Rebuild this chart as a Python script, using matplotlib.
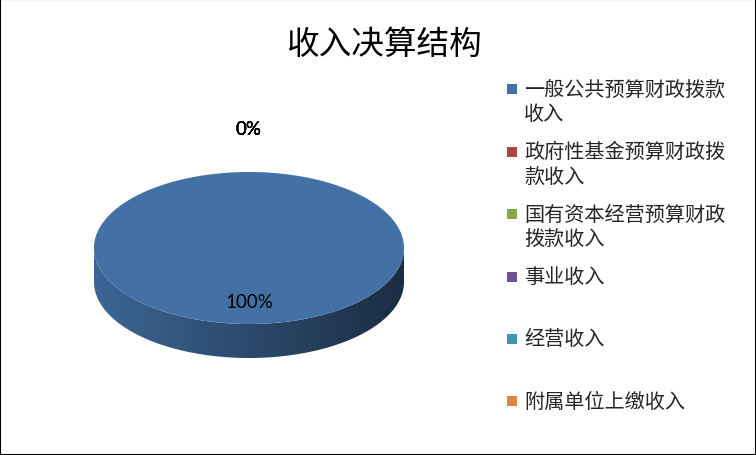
import numpy as np
import matplotlib
matplotlib.use('Agg')
import matplotlib.pyplot as plt
from matplotlib.patches import Polygon, Rectangle
from matplotlib.colors import to_rgb

plt.rcParams['font.family'] = ['Noto Sans CJK SC', 'DejaVu Sans']

# data
title = '收入决算结构'
categories = ['一般公共预算财政拨款\n收入', '政府性基金预算财政拨\n款收入', '国有资本经营预算财政\n拨款收入',
              '事业收入', '经营收入', '附属单位上缴收入']
values = [100, 0, 0, 0, 0, 0]
colors = ['#4371a6', '#a94442', '#8aa74b', '#6f5593', '#4197ae', '#de8441']

fig = plt.figure(figsize=(7.56, 4.56), dpi=100)
ax = fig.add_axes([0, 0, 1, 1])

# pie geometry in pixel units (y down)
cx, cy, a, b, depth = 249, 249, 155, 76, 34


def arc(t0, t1, n=300, dy=0):
    t = np.radians(np.linspace(t0, t1, n))
    return np.column_stack([cx + a * np.cos(t), cy - b * np.sin(t) + dy])


total = sum(values)
start = 90
for v, c in zip(values, colors):
    sweep = 360 * v / total
    end = start - sweep
    rgb = np.array(to_rgb(c))
    if sweep > 0:
        # front side wall (angles between -180 and 0)
        f0, f1 = max(end, -180), min(start, 0)
        if f1 > f0:
            wall = np.vstack([arc(f1, f0), arc(f0, f1, dy=depth)])
            patch = Polygon(wall, closed=True, facecolor='none', edgecolor='none')
            ax.add_patch(patch)
            shade = np.linspace(0.9, 0.4, 256)
            grad = (shade[:, None] * rgb[None, :])[None, :, :]
            im = ax.imshow(grad, extent=(cx - a, cx + a, cy + b + depth + 2, cy - 2),
                           aspect='auto', interpolation='bilinear', zorder=1)
            im.set_clip_path(patch)
        # top face
        top = np.vstack([[cx, cy], arc(start, end)])
        ax.add_patch(Polygon(top, closed=True, facecolor=c, edgecolor='none', zorder=2))
    # percentage label
    mid = np.radians((start + end) / 2)
    r = 0.7 if sweep > 20 else 1.57
    ax.text(cx + r * a * np.cos(mid), cy - r * b * np.sin(mid), f'{v / total:.0%}',
            family='Lato', fontsize=13.5, ha='center', va='center', color='black', zorder=3)
    start = end

ax.set_xlim(0, 756)
ax.set_ylim(456, 0)
ax.axis('off')

# title
ax.text(384, 45, title, fontsize=23.5, ha='center', va='center', color='black')

# legend drawn by hand so entries keep even spacing
for i, (lab, c) in enumerate(zip(categories, colors)):
    y0 = 90 + i * 62.5
    ax.add_patch(Rectangle((507, y0 - 5), 10, 10, facecolor=c, edgecolor='none'))
    for k, line in enumerate(lab.split('\n')):
        ax.text(524, y0 + k * 25, line, fontsize=14.5, ha='left', va='center', color='#262626')

# outer frame
fig.add_artist(Rectangle((0, 0), 1, 1, transform=fig.transFigure, fill=False,
                         edgecolor='black', linewidth=1.5))

fig.savefig('out.png', dpi=100)
